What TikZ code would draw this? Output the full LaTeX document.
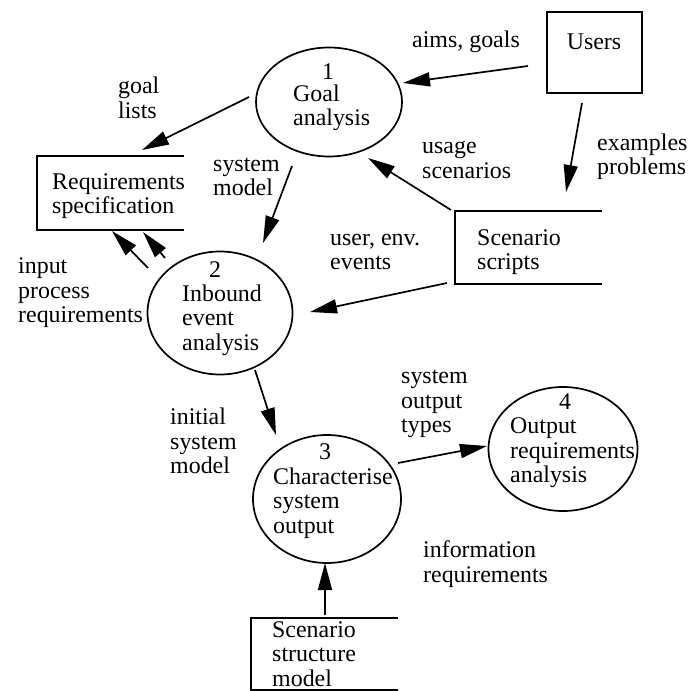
\documentclass[tikz,border=0pt]{standalone}
\usepackage{fontspec}
\setmainfont{Liberation Serif}
\usetikzlibrary{shapes.geometric,arrows.meta}
\begin{document}
\begin{tikzpicture}[x=1bp,y=-1bp,
  proc/.style={draw,ellipse,line width=1.7bp,inner sep=0},
  txt/.style={anchor=west,align=left,inner sep=0,font=\fontsize{24}{24.5}\selectfont},
  num/.style={inner sep=0,font=\fontsize{24}{24.5}\selectfont},
  flow/.style={line width=1.7bp,-{Triangle[length=27bp,width=14bp]}},
  store/.style={line width=1.7bp}]
\useasboundingbox (0,0) rectangle (689,691);
% processes
\node[proc,minimum width=146bp,minimum height=109bp] (e1) at (329,102) {};
\node[proc,minimum width=145bp,minimum height=123bp] (e2) at (220,313) {};
\node[proc,minimum width=148bp,minimum height=128bp] (e3) at (327,499) {};
\node[proc,minimum width=149bp,minimum height=124bp] (e4) at (563,449) {};
\node[num] (n1) at (328,72) {1};
\node[txt] (t1) at (293,108) {Goal\\analysis};
\node[num] (n2) at (215,270) {2};
\node[txt] (t2) at (182,320) {Inbound\\event\\analysis};
\node[num] (n3) at (325,452) {3};
\node[txt] (t3) at (273,503) {Characterise\\system\\output};
\node[num] (n4) at (565,402) {4};
\node[txt] (t4) at (510,453) {Output\\requirements\\analysis};
% external entity
\node[draw,line width=1.7bp,minimum width=95bp,minimum height=81bp] (users) at (594.5,52.5) {};
\node[num] (tu) at (594,42) {Users};
% stores
\draw[store] (184,156) -- (37,156) -- (37,230) -- (184,230);
\node[txt] (spec) at (52,196) {Requirements\\specification};
\draw[store] (602,211) -- (455,211) -- (455,284) -- (602,284);
\node[txt] (scripts) at (477,252) {Scenario\\scripts};
\draw[store] (398,618) -- (251,618) -- (251,690) -- (398,690);
\node[txt] (struct) at (272,654) {Scenario\\structure\\model};
% connector end points
\coordinate (a1s) at (528,66);  \coordinate (a1e) at (403,83);
\coordinate (a2s) at (249,97);  \coordinate (a2e) at (142,150);
\coordinate (a3s) at (292,166); \coordinate (a3e) at (263,243);
\coordinate (a4s) at (582,103); \coordinate (a4e) at (566,192);
\coordinate (a5s) at (451,210); \coordinate (a5e) at (368,158);
\coordinate (a6s) at (447,283); \coordinate (a6e) at (310,312);
\coordinate (a7s) at (148,268); \coordinate (a7e) at (112,231);
\coordinate (a8s) at (165,258); \coordinate (a8e) at (143,232);
\coordinate (a9s) at (255,370); \coordinate (a9e) at (276,435);
\coordinate (a10s) at (398,463); \coordinate (a10e) at (487,446);
\coordinate (a11s) at (325,615); \coordinate (a11e) at (325,563);
\draw[flow] (a1s) -- (a1e);
\draw[flow] (a2s) -- (a2e);
\draw[flow] (a3s) -- (a3e);
\draw[flow] (a4s) -- (a4e);
\draw[flow] (a5s) -- (a5e);
\draw[flow] (a6s) -- (a6e);
\draw[flow] (a7s) -- (a7e);
\draw[flow] (a8s) -- (a8e);
\draw[flow] (a9s) -- (a9e);
\draw[flow] (a10s) -- (a10e);
\draw[flow] (a11s) -- (a11e);
% labels
\node[txt] (l1) at (412,42) {aims, goals};
\node[txt] (l2) at (118,98) {goal\\lists};
\node[txt] (l3) at (213,177) {system\\model};
\node[txt] (l4) at (422,160) {usage\\scenarios};
\node[txt] (l5) at (597,157) {examples\\problems};
\node[txt] (l6) at (330,252) {user, env.\\events};
\node[txt] (l7) at (18,293) {input\\process\\requirements};
\node[txt] (l8) at (170,441) {initial\\system\\model};
\node[txt] (l9) at (401,404) {system\\output\\types};
\node[txt] (l10) at (423,564) {information\\requirements};
\end{tikzpicture}
\end{document}
